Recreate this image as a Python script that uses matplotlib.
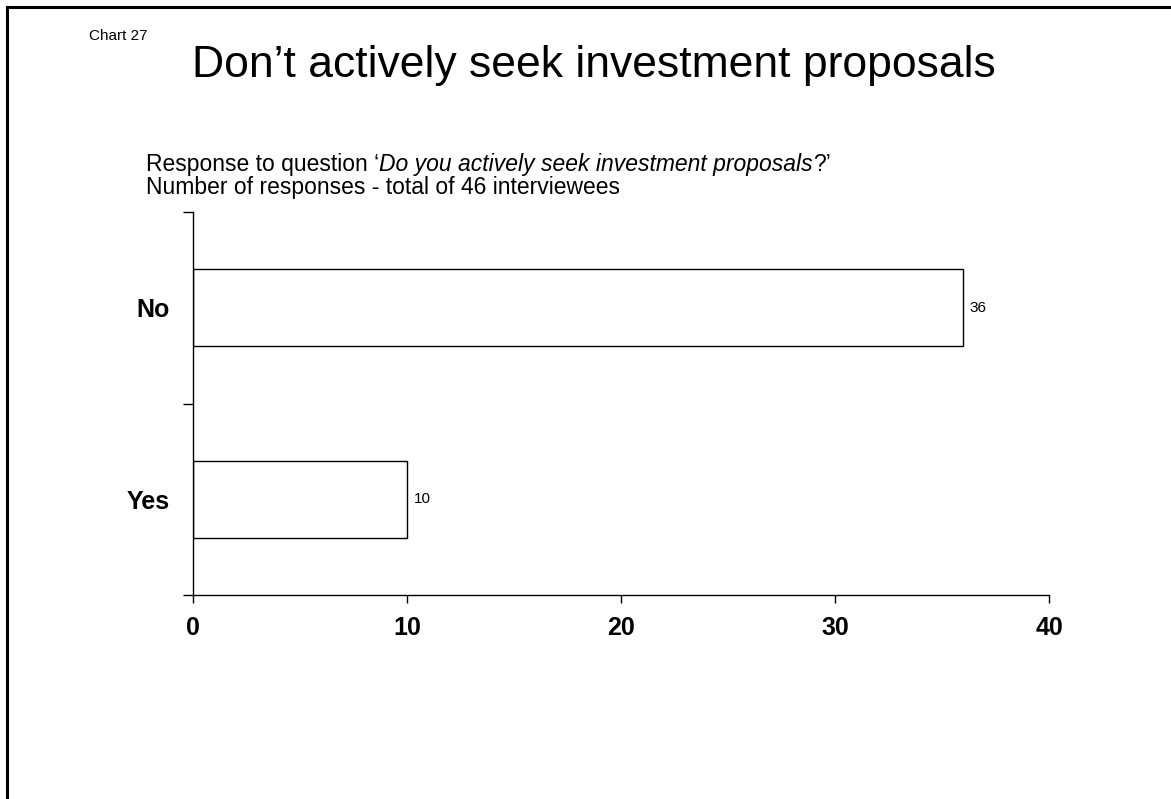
import matplotlib
matplotlib.use("Agg")
import matplotlib.pyplot as plt
from matplotlib.lines import Line2D

plt.rcParams['font.family'] = ['Liberation Sans', 'DejaVu Sans']

# data
categories = ['Yes', 'No']
responses = [10, 36]
xticks = [0, 10, 20, 30, 40]

W, H = 1171, 799
fig = plt.figure(figsize=(W / 100, H / 100), dpi=100)

# frame round the slide (left and top edges)
fig.add_artist(Line2D([7 / W, 7 / W], [0, 1 - 7 / H], color='black', lw=2.2))
fig.add_artist(Line2D([7 / W, 1], [1 - 7 / H, 1 - 7 / H], color='black', lw=2.2))

ax = fig.add_axes([193 / W, 1 - 595 / H, (1049 - 193) / W, (595 - 212) / H])

ypos = list(range(len(categories)))
ax.barh(ypos, responses, height=0.4, color='white', edgecolor='black', linewidth=1.0)

for y, v in zip(ypos, responses):
    ax.text(v + 0.3, y, str(v), va='center', ha='left', fontsize=11)

ax.set_xlim(0, 40)
ax.set_ylim(-0.5, len(categories) - 0.5)
ax.set_xticks(xticks)
ax.set_xticklabels([str(t) for t in xticks], fontsize=18, fontweight='bold')
ax.tick_params(axis='x', direction='out', length=6, width=1, pad=9)

# y-axis: ticks at category boundaries, labels at category centres
ax.set_yticks([i - 0.5 for i in range(len(categories) + 1)])
ax.set_yticklabels([])
ax.tick_params(axis='y', which='major', direction='out', length=7, width=1)
ax.set_yticks(ypos, minor=True)
ax.set_yticklabels(categories, minor=True, fontsize=18, fontweight='bold')
ax.tick_params(axis='y', which='minor', length=0, pad=17)

for side in ['top', 'right']:
    ax.spines[side].set_visible(False)
for side in ['left', 'bottom']:
    ax.spines[side].set_linewidth(1)

# titles
fig.text(89 / W, 1 - 40 / H, 'Chart 27', fontsize=11, va='baseline')
fig.text(594 / W, 1 - 77 / H, 'Don\u2019t actively seek investment proposals', fontsize=32,
         ha='center', va='baseline')

# subtitle with italic question
fig.canvas.draw()
r = fig.canvas.get_renderer()
y1 = 1 - 171 / H
x = 146 / W
for s, style in [('Response to question \u2018', 'normal'),
                 ('Do you actively seek investment proposals', 'italic'),
                 ('?\u2019', 'normal')]:
    t = fig.text(x, y1, s, fontsize=16.5, style=style, va='baseline')
    bb = t.get_window_extent(renderer=r)
    x = bb.x1 / W
fig.text(146 / W, 1 - 194 / H, 'Number of responses - total of 46 interviewees',
         fontsize=16.5, va='baseline')

fig.savefig('out.png', dpi=100)
